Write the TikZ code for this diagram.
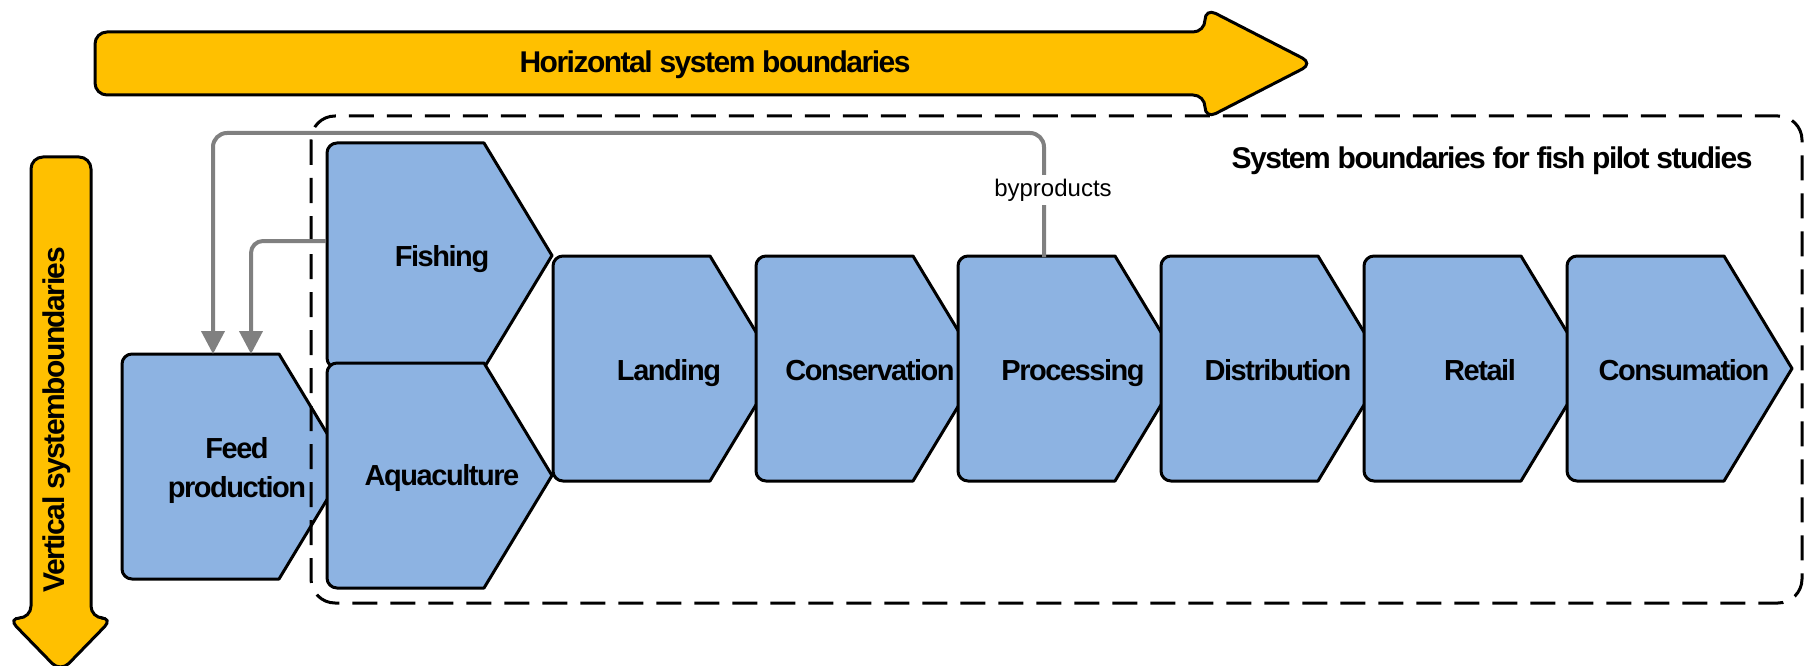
\documentclass[tikz,border=0pt]{standalone}
\usepackage{fontspec}
\setmainfont{Liberation Sans}
\newfontfamily\tightfont{Liberation Sans}[LetterSpace=-5]
\usetikzlibrary{arrows.meta}

\definecolor{stageblue}{HTML}{8DB3E2}
\definecolor{boundyellow}{HTML}{FFC000}
\definecolor{flowgray}{HTML}{808080}

\tikzset{
  stagefill/.style={draw=black, line width=3pt, fill=stageblue, line join=round},
  stagelabel/.style={inner sep=0pt, anchor=base, font=\tightfont\bfseries\fontsize{29}{39}\selectfont},
  boundarrow/.style={draw=black, line width=3pt, fill=boundyellow, rounded corners=12pt},
  boundlabel/.style={inner sep=0pt, anchor=base, font=\tightfont\bfseries\fontsize{30}{36}\selectfont},
  sysbound/.style={draw=black, line width=3pt, dash pattern=on 25pt off 13pt, rounded corners=24pt},
  flowline/.style={draw=flowgray, line width=4pt, rounded corners=14pt, -{Triangle[width=23pt,length=23pt]}},
  bylabel/.style={fill=white, inner xsep=2pt, inner ysep=4pt, font=\fontsize{24}{28}\selectfont},
}

% one step of the chain: left x, top y
\newcommand{\fishstage}[2]{%
  \draw[stagefill] ({#1+157},#2) -- ({#1+225},{#2+112.5}) -- ({#1+157},{#2+225})
    -- ({#1+10},{#2+225}) arc[start angle=90, end angle=180, radius=10]
    -- (#1,{#2+10}) arc[start angle=180, end angle=270, radius=10] -- cycle;
}

\begin{document}
\begin{tikzpicture}[x=1pt,y=-1pt]

% Page
\fill[white] (0,0) rectangle (1808,666);
\useasboundingbox (0,0) rectangle (1808,666);

% The steps
\fishstage{122}{354}
\fishstage{327}{143}
\fishstage{327}{363}
\fishstage{553}{256}
\fishstage{756}{256}
\fishstage{958}{256}
\fishstage{1161}{256}
\fishstage{1364}{256}
\fishstage{1567}{256}

% Their names
\node[stagelabel, align=center, anchor=center] (feed) at (237,470) {Feed\\production};
\node[stagelabel] (fishing) at (442,266) {Fishing};
\node[stagelabel] (aqua) at (442,485) {Aquaculture};
\node[stagelabel] (landing) at (669,380) {Landing};
\node[stagelabel] (conserv) at (870,380) {Conservation};
\node[stagelabel] (process) at (1073,380) {Processing};
\node[stagelabel] (distrib) at (1278,380) {Distribution};
\node[stagelabel] (retail) at (1480,380) {Retail};
\node[stagelabel] (consum) at (1684,380) {Consumation};

% System boundaries of the pilot studies
\draw[sysbound] (311,116) rectangle (1802,603);
\node[boundlabel] (pilot) at (1492,169) {System boundaries for fish pilot studies};

% Horizontal boundaries
\draw[boundarrow] (600,32) -- (1205,32) -- (1205,8) -- (1313,63.5) -- (1205,119)
  -- (1205,95) -- (95,95) -- (95,32) -- cycle;
\node[boundlabel] (horiz) at (715,73) {Horizontal system boundaries};

% Vertical boundaries
\draw[boundarrow] (61,157) -- (91,157) -- (91,618) -- (113,618) -- (60.5,672)
  -- (8,618) -- (31,618) -- (31,157) -- cycle;
\node[boundlabel, rotate=90, anchor=center] (vert) at (57,420) {Vertical systemboundaries};

% Byproducts back to feed production
\coordinate (procout) at (1044,257);
\coordinate (feedin) at (213,354);
\coordinate (fishout) at (326,241);
\coordinate (feedin2) at (251,354);
\draw[flowline] (procout) -- (1044,133) -- (213,133) -- (feedin);
\draw[flowline, rounded corners=12pt] (fishout) -- (251,241) -- (feedin2);
\node[bylabel] (byprod) at (1053,190) {byproducts};

\end{tikzpicture}
\end{document}
